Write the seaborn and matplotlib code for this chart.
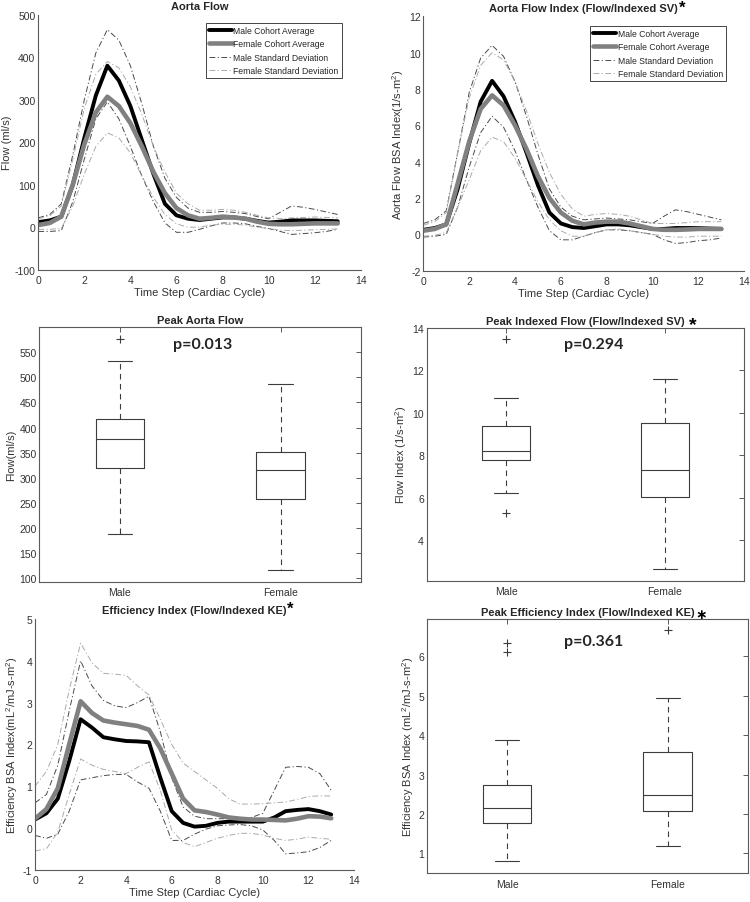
import numpy as np
import pandas as pd
import matplotlib
matplotlib.use("Agg")
import matplotlib.pyplot as plt
import seaborn as sns

# time steps of the cardiac cycle
steps = [0, 0.5, 1, 1.5, 2, 2.5, 3, 3.5, 4, 4.5, 5, 5.5, 6, 6.5, 7,
         7.5, 8, 8.5, 9, 9.5, 10, 10.5, 11, 11.5, 12, 12.5, 13]

# Aorta flow (ml/s)
flow_male = [12, 16, 25, 100, 210, 310, 380, 345, 285, 205, 125, 55, 28, 20,
             17, 20, 23, 23, 20, 15, 11, 13, 16, 16, 16, 15, 14]
flow_male_hi = [22, 30, 55, 170, 300, 410, 465, 440, 380, 290, 190, 115, 70, 45,
                35, 35, 37, 35, 32, 25, 20, 35, 50, 47, 42, 36, 30]
flow_male_lo = [-10, -10, -8, 60, 160, 255, 295, 255, 190, 120, 60, 10, -12, -12,
                -5, 3, 10, 10, 8, 2, -3, -10, -17, -15, -13, -10, -5]
flow_female = [5, 10, 25, 100, 195, 270, 307, 285, 245, 190, 130, 80, 45, 28,
               20, 22, 25, 23, 20, 13, 8, 7, 7, 8, 9, 9, 9]
flow_female_hi = [20, 27, 50, 160, 280, 360, 390, 375, 330, 265, 190, 130, 80, 55,
                  40, 40, 42, 40, 35, 28, 22, 20, 22, 23, 24, 23, 22]
flow_female_lo = [-5, -5, -3, 50, 125, 190, 222, 210, 175, 120, 70, 30, 8, 0,
                  0, 5, 7, 7, 5, 0, -3, -7, -8, -7, -6, -5, -4]

# Aorta flow index (1/s-m^2)
index_male = [0.25, 0.35, 0.55, 2.5, 5.0, 7.3, 8.45, 7.6, 6.2, 4.5, 2.7, 1.2, 0.6, 0.4,
              0.35, 0.45, 0.55, 0.55, 0.5, 0.4, 0.3, 0.3, 0.35, 0.35, 0.35, 0.32, 0.3]
index_male_hi = [0.6, 0.8, 1.3, 4.5, 7.8, 9.7, 10.4, 9.8, 8.4, 6.5, 4.4, 2.5, 1.5, 1.0,
                 0.8, 0.85, 0.9, 0.85, 0.8, 0.7, 0.6, 1.0, 1.35, 1.25, 1.1, 0.95, 0.8]
index_male_lo = [-0.15, -0.1, 0.0, 1.5, 3.7, 5.6, 6.5, 5.9, 4.6, 3.0, 1.5, 0.2, -0.3, -0.3,
                 -0.1, 0.1, 0.25, 0.25, 0.2, 0.1, 0.0, -0.3, -0.5, -0.45, -0.35, -0.3, -0.2]
index_female = [0.2, 0.3, 0.55, 2.8, 5.1, 6.9, 7.65, 7.1, 6.0, 4.7, 3.2, 2.0, 1.2, 0.75,
                0.55, 0.65, 0.7, 0.7, 0.6, 0.45, 0.3, 0.25, 0.25, 0.27, 0.3, 0.3, 0.3]
index_female_hi = [0.5, 0.7, 1.2, 4.5, 7.5, 9.3, 10.0, 9.6, 8.4, 6.8, 5.0, 3.4, 2.2, 1.4,
                   1.0, 1.1, 1.15, 1.1, 1.0, 0.8, 0.6, 0.6, 0.6, 0.65, 0.7, 0.7, 0.7]
index_female_lo = [-0.1, -0.05, 0.1, 1.5, 3.0, 4.6, 5.35, 5.1, 4.2, 3.0, 1.8, 0.8, 0.2, -0.1,
                   -0.1, 0.1, 0.25, 0.3, 0.2, 0.1, 0.0, -0.1, -0.15, -0.15, -0.1, -0.1, -0.1]

# Efficiency index (mL^2/mJ-s-m^2)
eff_male = [0.2, 0.35, 0.7, 1.6, 2.6, 2.4, 2.17, 2.12, 2.08, 2.07, 2.05, 1.2, 0.4, 0.12,
            0.03, 0.05, 0.12, 0.15, 0.15, 0.15, 0.15, 0.25, 0.4, 0.43, 0.45, 0.4, 0.32]
eff_male_hi = [0.6, 0.8, 1.5, 2.8, 4.0, 3.4, 3.05, 2.92, 2.88, 3.0, 3.15, 2.3, 1.2, 0.5,
               0.28, 0.22, 0.22, 0.22, 0.23, 0.25, 0.35, 0.9, 1.45, 1.47, 1.45, 1.3, 0.9]
eff_male_lo = [-0.18, -0.25, -0.15, 0.4, 1.15, 1.2, 1.25, 1.28, 1.28, 1.1, 0.95, 0.4, -0.3, -0.3,
               -0.15, -0.03, 0.05, 0.07, 0.08, 0.05, -0.05, -0.3, -0.62, -0.6, -0.57, -0.47, -0.3]
eff_female = [0.22, 0.45, 0.95, 2.0, 3.03, 2.75, 2.57, 2.52, 2.48, 2.44, 2.35, 1.9, 1.3, 0.7,
              0.42, 0.38, 0.32, 0.25, 0.22, 0.2, 0.2, 0.19, 0.18, 0.22, 0.28, 0.27, 0.23]
eff_female_hi = [1.0, 1.35, 2.0, 3.3, 4.42, 3.95, 3.7, 3.68, 3.65, 3.4, 3.18, 2.6, 2.0, 1.55,
                 1.35, 1.15, 0.95, 0.7, 0.57, 0.57, 0.58, 0.6, 0.62, 0.68, 0.75, 0.77, 0.76]
eff_female_lo = [-0.55, -0.5, -0.1, 0.8, 1.65, 1.5, 1.4, 1.35, 1.3, 1.45, 1.58, 0.9, -0.05, -0.35,
                 -0.45, -0.35, -0.25, -0.18, -0.13, -0.13, -0.17, -0.25, -0.3, -0.27, -0.22, -0.25, -0.27]

# Peak values per subject (boxplots)
peak_flow_male = [189, 250, 320, 350, 377, 400, 417, 532, 576]
peak_flow_female = [117, 200, 257, 290, 316, 335, 351, 420, 487]
peak_index_male = [5.25, 6.2, 7.75, 8.0, 8.2, 9.0, 9.4, 10.7, 13.5]
peak_index_female = [2.65, 4.5, 6.05, 6.8, 7.3, 8.5, 9.5, 10.5, 11.6]
peak_eff_male = [0.8, 1.2, 1.5, 1.77, 1.9, 2.0, 2.14, 2.3, 2.5, 2.74, 3.88, 6.1, 6.33]
peak_eff_female = [1.18, 1.8, 2.08, 2.3, 2.47, 3.0, 3.58, 4.95, 6.67]

sns.set_style("white")
plt.rcParams["font.family"] = ["Liberation Sans", "DejaVu Sans"]
plt.rcParams["axes.unicode_minus"] = False
plt.rcParams["mathtext.fontset"] = "custom"
plt.rcParams["mathtext.rm"] = "Liberation Sans"
plt.rcParams["mathtext.it"] = "Liberation Sans:italic"
plt.rcParams["mathtext.bf"] = "Liberation Sans:bold"

AXCOL = "#5a5a5a"
TXTCOL = "#333333"
DASHDOT = (0, (6, 2.5, 1.2, 2.5))


def style_axes(ax, ylim, yticks, box=False):
    ax.set_ylim(*ylim)
    ax.set_yticks(yticks)
    for s in ax.spines.values():
        s.set_color(AXCOL)
        s.set_linewidth(0.8)
    if not box:
        ax.spines["top"].set_visible(False)
        ax.spines["right"].set_visible(False)
    ax.tick_params(direction="in", length=3.5, width=0.7, color=AXCOL,
                   labelsize=7.5, labelcolor=TXTCOL, pad=2,
                   top=box, right=box)
    ax.tick_params(axis="x", pad=4)


def add_star(ax, title, text="*", size=12, dx=0.5, dy=2, va="center"):
    ax.annotate(text, xy=(1, 0.5), xycoords=title, xytext=(dx, dy),
                textcoords="offset points", ha="left", va=va,
                fontsize=size, fontweight="bold", color="black")


def draw_waveform(ax, m, m_hi, m_lo, f, f_hi, f_lo, legend_pos=None):
    sd = dict(lw=0.7, linestyle=DASHDOT)
    sns.lineplot(x=steps, y=m_hi, ax=ax, color="#4a4a4a", label="Male Standard Deviation", **sd)
    sns.lineplot(x=steps, y=m_lo, ax=ax, color="#4a4a4a", label="_nolegend_", **sd)
    sns.lineplot(x=steps, y=f_hi, ax=ax, color="#aaaaaa", label="Female Standard Deviation", **sd)
    sns.lineplot(x=steps, y=f_lo, ax=ax, color="#aaaaaa", label="_nolegend_", **sd)
    sns.lineplot(x=steps, y=m, ax=ax, color="black", lw=2.8, label="Male Cohort Average",
                 solid_joinstyle="round", solid_capstyle="round")
    sns.lineplot(x=steps, y=f, ax=ax, color="#808080", lw=3.3, label="Female Cohort Average",
                 solid_joinstyle="round", solid_capstyle="round")
    ax.set_xlim(0, 14)
    ax.set_xticks([0, 2, 4, 6, 8, 10, 12, 14])
    ax.set_xlabel("Time Step (Cardiac Cycle)", fontsize=8, color=TXTCOL, labelpad=1.5)
    handles, labels = ax.get_legend_handles_labels()
    if ax.get_legend() is not None:
        ax.get_legend().remove()
    if legend_pos is not None:
        order = ["Male Cohort Average", "Female Cohort Average",
                 "Male Standard Deviation", "Female Standard Deviation"]
        lookup = dict(zip(labels, handles))
        leg = ax.legend([lookup[k] for k in order], order, loc="upper right",
                        bbox_to_anchor=legend_pos, fontsize=6.2, frameon=True,
                        fancybox=False, framealpha=1, edgecolor="#444444",
                        borderpad=0.35, handlelength=2.7, handletextpad=0.15,
                        labelspacing=0.5, borderaxespad=0)
        leg.get_frame().set_linewidth(0.7)


def draw_box(ax, male, female):
    df = pd.DataFrame({
        "sex": ["Male"] * len(male) + ["Female"] * len(female),
        "value": male + female,
    })
    sns.boxplot(data=df, x="sex", y="value", order=["Male", "Female"], ax=ax,
                fill=False, color="#3c3c3c", width=0.3, linewidth=0.8, whis=1.5,
                whiskerprops={"linestyle": (0, (5, 4))},
                flierprops={"marker": "+", "markeredgecolor": "#3c3c3c",
                            "markersize": 6, "markeredgewidth": 0.8})
    ax.set_xlim(-0.5, 1.5)
    ax.set_xlabel("")


fig = plt.figure(figsize=(7.5, 9.03), dpi=100)

# --- Aorta flow
ax = fig.add_axes([0.051, 0.7002, 0.430, 0.2824])
draw_waveform(ax, flow_male, flow_male_hi, flow_male_lo,
              flow_female, flow_female_hi, flow_female_lo, legend_pos=(0.941, 0.967))
style_axes(ax, (-100, 500), [-100, 0, 100, 200, 300, 400, 500])
ax.set_ylabel("Flow (ml/s)", fontsize=8, color=TXTCOL, labelpad=2)
ax.set_title("Aorta Flow", fontsize=8, fontweight="bold", pad=4)

# --- Aorta flow index
ax = fig.add_axes([0.5644, 0.6991, 0.428, 0.2817])
draw_waveform(ax, index_male, index_male_hi, index_male_lo,
              index_female, index_female_hi, index_female_lo, legend_pos=(0.943, 0.962))
style_axes(ax, (-2, 12), [-2, 0, 2, 4, 6, 8, 10, 12])
ax.set_ylabel("Aorta Flow BSA Index(1/s-m$^{2}$)", fontsize=8, color=TXTCOL, labelpad=2)
t = ax.set_title("Aorta Flow Index (Flow/Indexed SV)", fontsize=8, fontweight="bold", pad=4)
add_star(ax, t, size=12, dx=0.3, dy=0.5)

# --- Peak aorta flow
ax = fig.add_axes([0.0524, 0.3547, 0.4289, 0.2824])
draw_box(ax, peak_flow_male, peak_flow_female)
style_axes(ax, (93, 601), [100, 150, 200, 250, 300, 350, 400, 450, 500, 550], box=True)
ax.set_ylabel("Flow(ml/s)", fontsize=8, color=TXTCOL, labelpad=2)
ax.set_title("Peak Aorta Flow", fontsize=8, fontweight="bold", pad=3)
ax.text(0.509, 0.932, "p=0.013", transform=ax.transAxes, ha="center", va="center",
        fontsize=11.5, fontweight="bold", family=["Lato", "DejaVu Sans"])

# --- Peak indexed flow
ax = fig.add_axes([0.5689, 0.3558, 0.4236, 0.2799])
draw_box(ax, peak_index_male, peak_index_female)
style_axes(ax, (2.08, 14), [4, 6, 8, 10, 12, 14], box=True)
ax.set_ylabel("Flow Index (1/s-m$^{2}$)", fontsize=8, color=TXTCOL, labelpad=2)
t = ax.set_title("Peak Indexed Flow (Flow/Indexed SV)", fontsize=8, fontweight="bold", pad=3)
add_star(ax, t, size=14, dx=3, dy=-2.5)
ax.text(0.527, 0.937, "p=0.294", transform=ax.transAxes, ha="center", va="center",
        fontsize=11.5, fontweight="bold", family=["Lato", "DejaVu Sans"])

# --- Efficiency index
ax = fig.add_axes([0.0467, 0.0358, 0.4253, 0.2776])
draw_waveform(ax, eff_male, eff_male_hi, eff_male_lo,
              eff_female, eff_female_hi, eff_female_lo)
style_axes(ax, (-1, 5), [-1, 0, 1, 2, 3, 4, 5])
ax.set_ylabel("Efficiency BSA Index(mL$^{2}$/mJ-s-m$^{2}$)", fontsize=8, color=TXTCOL, labelpad=2)
t = ax.set_title("Efficiency Index (Flow/Indexed KE)", fontsize=8, fontweight="bold", pad=4)
add_star(ax, t, size=12, dx=0.3, dy=1.5)

# --- Peak efficiency index
ax = fig.add_axes([0.5697, 0.0321, 0.4271, 0.2813])
draw_box(ax, peak_eff_male, peak_eff_female)
style_axes(ax, (0.5, 6.95), [1, 2, 3, 4, 5, 6], box=True)
ax.set_ylabel("Efficiency BSA Index (mL$^{2}$/mJ-s-m$^{2}$)", fontsize=8, color=TXTCOL, labelpad=2)
t = ax.set_title("Peak Efficiency Index (Flow/Indexed KE)", fontsize=8, fontweight="bold", pad=3)
add_star(ax, t, text="\u2217", size=10, dx=0.5, dy=-1.5)
ax.text(0.52, 0.915, "p=0.361", transform=ax.transAxes, ha="center", va="center",
        fontsize=11.5, fontweight="bold", family=["Lato", "DejaVu Sans"])

fig.savefig("out.png", dpi=100)
